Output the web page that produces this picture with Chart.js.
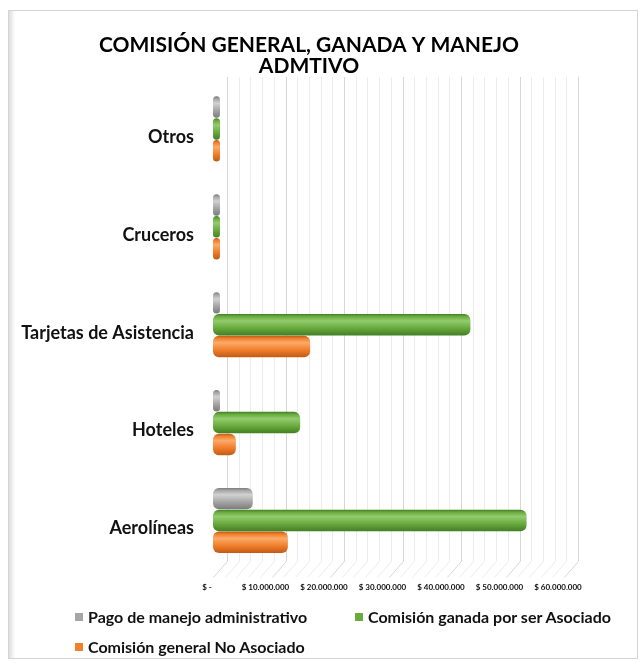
<!DOCTYPE html>
<html lang="es">
<head>
<meta charset="utf-8">
<title>Comisión general, ganada y manejo admtivo</title>
<script src="https://cdn.jsdelivr.net/npm/chart.js@4.4.1/dist/chart.umd.min.js"></script>
<style>
  html, body { margin: 0; padding: 0; background: #fff; }
  #borde { position: absolute; left: 8px; top: 10px; width: 628px; height: 647px;
           border: 1px solid #d4d4d4; box-shadow: inset 6px 0 4px -3px #dedede; }
  canvas { position: absolute; left: 0; top: 0; }
  .leyenda { position: absolute; font: bold 16px Lato, sans-serif; color: #111; white-space: nowrap; line-height: 18px; }
  .leyenda i { display: inline-block; width: 8px; height: 8px; margin-right: 5px; vertical-align: 2px; }
</style>
</head>
<body>
<div id="borde"></div>
<canvas id="grafico" width="642" height="663"></canvas>
<div id="leyenda"></div>
<script>
// Datos (de arriba hacia abajo)
const categorias = ['Otros', 'Cruceros', 'Tarjetas de Asistencia', 'Hoteles', 'Aerolíneas'];
const pagoManejoAdmin = [0, 0, 0, 1000000, 6800000];
const comisionGanadaAsociado = [0, 0, 44000000, 14900000, 53600000];
const comisionGeneralNoAsociado = [0, 0, 16600000, 3900000, 12800000];
const ticksEje = [0, 10000000, 20000000, 30000000, 40000000, 50000000, 60000000];

// colores: [brillo, base, sombra]
const tonosGris = ['#d2d2d2', '#a6a6a6', '#7a7a7a'];
const tonosVerde = ['#92cc6e', '#6aab3e', '#437f24'];
const tonosNaranja = ['#fbab6a', '#f27f2c', '#bf5a17'];

const formatoPesos = v => v === 0 ? '$ -' : '$ ' + String(v).replace(/\B(?=(\d{3})+(?!\d))/g, '.');

// degradado tipo cilindro para cada barra
const cilindro = (tonos) => (c) => {
  const chart = c.chart;
  const y = chart.scales && chart.scales.y;
  if (c.type !== 'data' || !y) return tonos[1];
  const banda = Math.abs(y.getPixelForValue(1) - y.getPixelForValue(0));
  const trozo = banda * 0.67 / 3;
  const medio = y.getPixelForValue(c.dataIndex) + (c.datasetIndex - 1) * trozo;
  const alto = trozo * 0.98;
  if (!isFinite(medio) || !isFinite(alto) || alto <= 0) return tonos[1];
  const g = chart.ctx.createLinearGradient(0, medio - alto / 2, 0, medio + alto / 2);
  g.addColorStop(0, tonos[2]);
  g.addColorStop(0.12, tonos[1]);
  g.addColorStop(0.32, tonos[0]);
  g.addColorStop(0.65, tonos[1]);
  g.addColorStop(1, tonos[2]);
  return g;
};

// pared de fondo y piso (efecto 3D de Excel)
const paredFondo = {
  id: 'paredFondo',
  beforeDatasetsDraw(chart) {
    const { ctx, chartArea, scales: { x } } = chart;
    const fondo = 14, arriba = chartArea.top - 3, piso = chartArea.bottom - 8, frente = chartArea.bottom + 8;
    ctx.save();
    ctx.lineWidth = 1;
    for (let v = 0; v <= x.max; v += 2000000) {
      const px = Math.round(x.getPixelForValue(v));
      ctx.strokeStyle = v % 10000000 === 0 ? '#d6d6d6' : '#ececec';
      ctx.beginPath();
      ctx.moveTo(px + fondo + 0.5, arriba);
      ctx.lineTo(px + fondo + 0.5, piso);
      ctx.lineTo(px + 0.5, frente);
      ctx.stroke();
    }
    ctx.restore();
  }
};

const series = [
  { label: 'Pago de manejo administrativo', data: pagoManejoAdmin, tonos: tonosGris },
  { label: 'Comisión ganada por ser Asociado', data: comisionGanadaAsociado, tonos: tonosVerde },
  { label: 'Comisión general No Asociado', data: comisionGeneralNoAsociado, tonos: tonosNaranja },
];

const chart = new Chart(document.getElementById('grafico'), {
  type: 'bar',
  data: {
    labels: categorias,
    datasets: series.map(s => ({
      label: s.label,
      data: s.data,
      backgroundColor: cilindro(s.tonos),
      borderWidth: 0,
      borderSkipped: false,
      borderRadius: 6,
      minBarLength: 7,
      categoryPercentage: 0.67,
      barPercentage: 0.98,
    })),
  },
  options: {
    indexAxis: 'y',
    responsive: false,
    animation: false,
    events: [],
    layout: { padding: { left: 20, right: 44, top: 0, bottom: 58 } },
    plugins: {
      legend: { display: false },
      tooltip: { enabled: false },
      title: {
        display: true,
        text: ['COMISIÓN GENERAL, GANADA Y MANEJO', 'ADMTIVO'],
        color: '#000',
        font: { family: 'Lato', weight: 'bold', size: 21, lineHeight: 1.0 },
        padding: { top: 35, bottom: 3 },
      },
    },
    scales: {
      x: {
        min: 0,
        max: 60000000,
        afterBuildTicks: s => { s.ticks = ticksEje.map(v => ({ value: v })); },
        grid: { display: false, drawTicks: false },
        border: { display: false },
        ticks: {
          callback: v => formatoPesos(v),
          color: '#111',
          font: { family: 'Lato', weight: 'bold', size: 8 },
          padding: 13,
          labelOffset: -6,
          autoSkip: false,
          maxRotation: 0,
        },
      },
      y: {
        afterFit: s => { s.width = 193; },
        grid: { display: false, drawTicks: false },
        border: { display: false },
        ticks: {
          color: '#111',
          font: { family: 'Lato', weight: 'bold', size: 18 },
          padding: 19,
          labelOffset: 8,
        },
      },
      // margen derecho (pared lateral), sin marcas
      yDer: {
        type: 'category',
        position: 'right',
        afterFit: s => { s.width = 34; },
        grid: { display: false, drawTicks: false },
        border: { display: false },
        ticks: { display: false },
      },
    },
  },
  plugins: [paredFondo],
});

// leyenda en HTML con las mismas series
const posLeyenda = [[75, 608], [355, 608], [75, 638]];
const cont = document.getElementById('leyenda');
series.forEach((s, i) => {
  const d = document.createElement('div');
  d.className = 'leyenda';
  d.style.left = posLeyenda[i][0] + 'px';
  d.style.top = posLeyenda[i][1] + 'px';
  d.innerHTML = '<i style="background:' + s.tonos[1] + '"></i>' + s.label;
  cont.appendChild(d);
});
</script>
</body>
</html>
